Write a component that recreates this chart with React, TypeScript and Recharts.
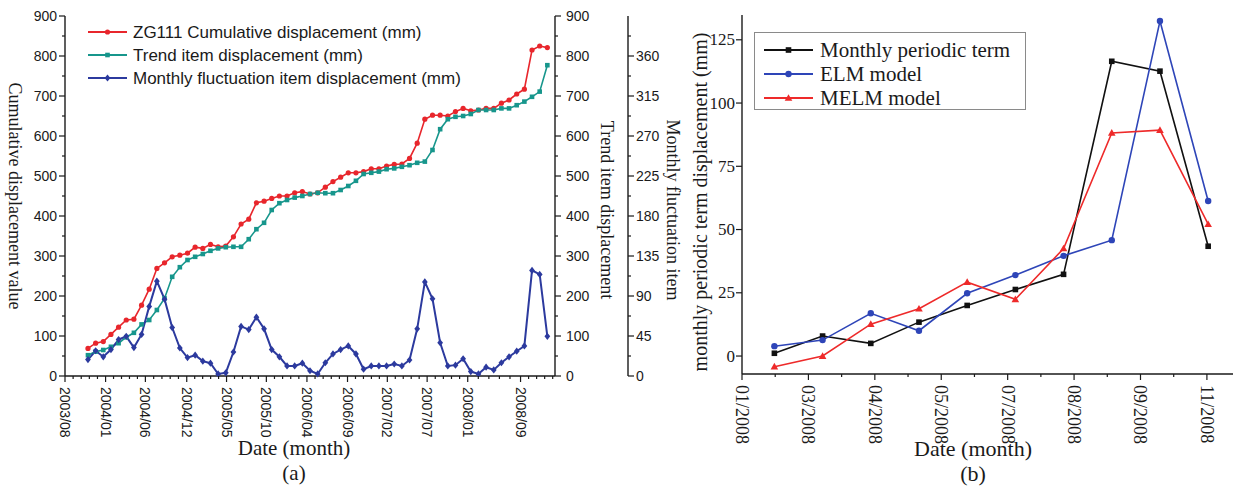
import React from "react";
import { LineChart, Line, XAxis, YAxis, Legend } from "recharts";

const SANS = "'Liberation Sans', Arial, sans-serif";
const SERIF = "'Liberation Serif', 'Times New Roman', serif";
const INK = "#1a1a1a";

// ---------- (a) ZG111, one value per monitoring sample ----------
const cumulative = [
  69, 82, 86, 104, 122, 140, 142, 177, 217, 269, 283, 298, 302, 307, 322, 319,
  329, 323, 325, 348, 380, 392, 433, 437, 444, 450, 450, 458, 461, 455, 458, 472,
  486, 497, 508, 508, 511, 518, 518, 525, 529, 530, 544, 582, 642, 652, 652, 650,
  661, 669, 663, 665, 669, 669, 682, 690, 705, 717, 815, 825, 821,
];
const trend = [
  52, 61, 65, 73, 82, 97, 108, 129, 140, 165, 194, 248, 272, 290, 298, 305,
  313, 319, 322, 323, 323, 342, 367, 383, 415, 432, 440, 446, 450, 455, 458, 457,
  457, 465, 475, 488, 505, 508, 511, 517, 519, 523, 527, 533, 536, 565, 617, 642,
  648, 650, 655, 665, 665, 665, 669, 669, 677, 686, 698, 711, 777,
];
// read on the third axis (monthly fluctuation item)
const fluctuation = [
  18.5, 28.4, 21.6, 29.7, 41.0, 44.6, 32.0, 46.8, 78.3, 106.7, 86.4, 54.5, 31.5,
  20.7, 23.4, 16.7, 14.4, 2.3, 3.6, 27.0, 55.8, 52.2, 66.2, 53.1, 29.7, 21.6,
  11.3, 11.3, 14.4, 5.9, 2.3, 14.9, 24.8, 29.7, 33.8, 24.8, 7.7, 11.3, 11.3, 11.3,
  13.5, 11.3, 18.0, 53.1, 105.8, 86.9, 37.4, 11.3, 12.2, 19.4, 5.0, 2.3, 9.9, 6.8,
  14.9, 21.6, 27.9, 33.8, 118.8, 114.3, 44.6,
];
const dateLabels = [
  "2003/08", "2004/01", "2004/06", "2004/12", "2005/05", "2005/10",
  "2006/04", "2006/09", "2007/02", "2007/07", "2008/01", "2008/09",
];
const datePos = [-3, 2.3, 7.5, 12.9, 18.1, 23.3, 28.6, 33.9, 39.1, 44.3, 49.6, 56.5];

// ---------- (b) 2008 prediction ----------
const monthIdx = [1, 2, 3, 4, 5, 6, 7, 8, 9, 10];
const periodic = [1.1, 7.9, 5.0, 13.4, 20.0, 26.3, 32.3, 116.5, 112.6, 43.4];
const elm = [3.9, 6.3, 16.9, 10.0, 24.8, 32.0, 39.6, 45.8, 132.4, 61.3];
const melm = [-4.2, 0, 12.6, 18.7, 29.2, 22.4, 42.5, 88.2, 89.3, 52.1];
const monthLabels = ["01/2008", "03/2008", "04/2008", "05/2008", "07/2008", "08/2008", "09/2008", "11/2008"];
const monthPos = [0.328, 1.706, 3.084, 4.462, 5.84, 7.218, 8.596, 9.974];

const leftData = cumulative.map((c, i) => ({ i, cumulative: c, trend: trend[i], fluctuation: fluctuation[i] }));
const rightData = monthIdx.map((m, k) => ({ m, periodic: periodic[k], elm: elm[k], melm: melm[k] }));

const A_DOMAIN: [number, number] = [-3, 61];
const B_DOMAIN: [number, number] = [0.328, 10.868];

function withMinors(pos: number[], n: number, tail: number, max: number) {
  const out: number[] = [];
  pos.forEach((p, k) => {
    out.push(p);
    const next = k < pos.length - 1 ? pos[k + 1] : p + tail * (n + 1);
    const step = (next - p) / (n + 1);
    for (let j = 1; j <= n; j++) if (p + j * step <= max) out.push(p + j * step);
  });
  return out;
}
const range = (from: number, to: number, step: number) => {
  const out: number[] = [];
  for (let v = from; v <= to + 1e-9; v += step) out.push(Math.round(v * 100) / 100);
  return out;
};

const aXTicks = withMinors(datePos, 4, 1.05, 61);
const aTopTicks = range(-3, 61, 6.4);
const bXTicks = withMinors(monthPos, 1, 0.69, 10.86);

function Marker({ shape, x, y, color, s }: any) {
  if (shape === "circle") return <circle cx={x} cy={y} r={s} fill={color} />;
  if (shape === "square") return <rect x={x - s} y={y - s} width={2 * s} height={2 * s} fill={color} />;
  if (shape === "diamond")
    return <polygon points={`${x},${y - s} ${x + s * 0.8},${y} ${x},${y + s} ${x - s * 0.8},${y}`} fill={color} />;
  return <polygon points={`${x},${y - s} ${x + s},${y + s * 0.75} ${x - s},${y + s * 0.75}`} fill={color} />;
}

const makeDot = (shape: string, color: string, s: number) => (p: any) => {
  if (p.cx == null || p.cy == null) return <g key={`d${p.index}`} />;
  return <Marker key={`d${p.index}`} shape={shape} x={p.cx} y={p.cy} color={color} s={s} />;
};

function XTick({ x = 0, y = 0, payload, majors, labels, ff, fs }: any) {
  const v = payload?.value ?? 0;
  const k = majors.findIndex((m: number) => Math.abs(m - v) < 1e-6);
  if (k < 0) return <line x1={x} x2={x} y1={y} y2={y + 3} stroke={INK} strokeWidth={1.2} />;
  return (
    <g>
      <line x1={x} x2={x} y1={y} y2={y + 6} stroke={INK} strokeWidth={1.2} />
      <text
        transform={`translate(${x},${y + 11}) rotate(90)`}
        textAnchor="start"
        dominantBaseline="central"
        fontFamily={ff}
        fontSize={fs}
        fill={INK}
      >
        {labels[k]}
      </text>
    </g>
  );
}

function TopTick({ x = 0, y = 0 }: any) {
  return <line x1={x} x2={x} y1={y} y2={y + 6} stroke={INK} strokeWidth={1.2} />;
}

function YTick({ x = 0, y = 0, payload, side, step, ff, fs, gap }: any) {
  const v = payload?.value ?? 0;
  const major = Math.abs(v / step - Math.round(v / step)) < 1e-6;
  const dir = side === "left" ? -1 : 1;
  return (
    <g>
      <line x1={x} x2={x + dir * (major ? 6 : 3)} y1={y} y2={y} stroke={INK} strokeWidth={1.2} />
      {major && (
        <text
          x={x + dir * gap}
          y={y}
          textAnchor={side === "left" ? "end" : "start"}
          dominantBaseline="central"
          fontFamily={ff}
          fontSize={fs}
          fill={INK}
        >
          {v}
        </text>
      )}
    </g>
  );
}

function Titles({ items }: any) {
  return (
    <g>
      {items.map((t: any, k: number) => (
        <text
          key={k}
          x={t.x}
          y={t.y}
          transform={t.rot ? `rotate(${t.rot} ${t.x} ${t.y})` : undefined}
          textAnchor="middle"
          dominantBaseline="central"
          fontFamily={SERIF}
          fontSize={t.fs}
          fill={INK}
        >
          {t.txt}
        </text>
      ))}
    </g>
  );
}

const RED_A = "#e8262c";
const TEAL_A = "#17968c";
const BLUE_A = "#2c3a9e";
const BLACK_B = "#111111";
const BLUE_B = "#2e45b8";
const RED_B = "#ee2a2a";

const shapeOf: Record<string, [string, number]> = {
  cumulative: ["circle", 2.6],
  trend: ["square", 2.3],
  fluctuation: ["diamond", 3.6],
  periodic: ["square", 2.8],
  elm: ["circle", 3.2],
  melm: ["triangle", 3.8],
};
const orderA = ["cumulative", "trend", "fluctuation"];
const orderB = ["periodic", "elm", "melm"];

const sortBy = (payload: any[] | undefined, order: string[]) =>
  [...(payload ?? [])].sort((a, b) => order.indexOf(a.dataKey) - order.indexOf(b.dataKey));

function LegendA({ payload }: any) {
  return (
    <svg width={400} height={70}>
      {sortBy(payload, orderA).map((r: any, k: number) => {
        const y = 12 + k * 23;
        const [shape, s] = shapeOf[r.dataKey] ?? ["circle", 2];
        return (
          <g key={k}>
            <line x1={8} x2={47} y1={y} y2={y} stroke={r.color} strokeWidth={1.8} />
            <Marker shape={shape} x={27.5} y={y} color={r.color} s={s} />
            <text x={53} y={y} dominantBaseline="central" fontFamily={SANS} fontSize={17} fill={INK}>
              {r.value}
            </text>
          </g>
        );
      })}
    </svg>
  );
}

function LegendB({ payload }: any) {
  return (
    <svg width={270} height={76} style={{ display: "block" }}>
      {sortBy(payload, orderB).map((r: any, k: number) => {
        const y = 17 + k * 24;
        const [shape, s] = shapeOf[r.dataKey] ?? ["circle", 2];
        return (
          <g key={k}>
            <line x1={9} x2={58} y1={y} y2={y} stroke={r.color} strokeWidth={1.8} />
            <Marker shape={shape} x={33.5} y={y} color={r.color} s={s} />
            <text x={65} y={y} dominantBaseline="central" fontFamily={SERIF} fontSize={21} fill={INK}>
              {r.value}
            </text>
          </g>
        );
      })}
    </svg>
  );
}

function PanelA() {
  return (
    <LineChart width={700} height={486} data={leftData} margin={{ top: 16, right: 20, bottom: 40, left: 0 }}>
      <XAxis
        dataKey="i"
        type="number"
        domain={A_DOMAIN}
        ticks={aXTicks}
        interval={0}
        height={70}
        tickSize={0}
        tickMargin={0}
        tickLine={false}
        axisLine={{ stroke: INK, strokeWidth: 1.4 }}
        tick={<XTick majors={datePos} labels={dateLabels} ff={SANS} fs={14} />}
        label={
          <Titles
            items={[
              { x: 294, y: 448, txt: "Date (month)", fs: 21 },
              { x: 294, y: 473, txt: "(a)", fs: 21 },
            ]}
          />
        }
      />
      <XAxis
        xAxisId="top"
        orientation="top"
        dataKey="i"
        type="number"
        domain={A_DOMAIN}
        ticks={aTopTicks}
        interval={0}
        height={0}
        tickSize={0}
        tickMargin={0}
        tickLine={false}
        axisLine={{ stroke: INK, strokeWidth: 1.4 }}
        tick={<TopTick />}
      />
      <YAxis
        yAxisId="left"
        width={65}
        domain={[0, 900]}
        ticks={range(0, 900, 50)}
        interval={0}
        tickSize={0}
        tickMargin={0}
        tickLine={false}
        axisLine={{ stroke: INK, strokeWidth: 1.4 }}
        tick={<YTick side="left" step={100} ff={SANS} fs={14} gap={8} />}
        label={<Titles items={[{ x: 15, y: 196, rot: 90, txt: "Cumulative displacement value", fs: 18 }]} />}
      />
      <YAxis
        yAxisId="r1"
        orientation="right"
        width={73}
        domain={[0, 900]}
        ticks={range(0, 900, 50)}
        interval={0}
        tickSize={0}
        tickMargin={0}
        tickLine={false}
        axisLine={{ stroke: INK, strokeWidth: 1.4 }}
        tick={<YTick side="right" step={100} ff={SANS} fs={14} gap={11} />}
        label={<Titles items={[{ x: 607, y: 210, rot: 90, txt: "Trend item displacement", fs: 18 }]} />}
      />
      <YAxis
        yAxisId="r2"
        orientation="right"
        width={52}
        domain={[0, 405]}
        ticks={range(0, 382.5, 22.5)}
        interval={0}
        tickSize={0}
        tickMargin={0}
        tickLine={false}
        axisLine={{ stroke: INK, strokeWidth: 1.4 }}
        tick={<YTick side="right" step={45} ff={SANS} fs={14} gap={8} />}
        label={<Titles items={[{ x: 673, y: 210, rot: 90, txt: "Monthly fluctuation item", fs: 18 }]} />}
      />
      <Legend
        layout="vertical"
        align="center"
        verticalAlign="middle"
        content={LegendA}
        wrapperStyle={{ left: 80, top: 20, width: 400, height: 70 }}
      />
      <Line
        yAxisId="left"
        dataKey="cumulative"
        name="ZG111 Cumulative displacement (mm)"
        stroke={RED_A}
        strokeWidth={1.6}
        dot={makeDot("circle", RED_A, 2.6)}
        isAnimationActive={false}
      />
      <Line
        yAxisId="r1"
        dataKey="trend"
        name="Trend item displacement (mm)"
        stroke={TEAL_A}
        strokeWidth={1.6}
        dot={makeDot("square", TEAL_A, 2.3)}
        isAnimationActive={false}
      />
      <Line
        yAxisId="r2"
        dataKey="fluctuation"
        name="Monthly fluctuation item displacement (mm)"
        stroke={BLUE_A}
        strokeWidth={2}
        dot={makeDot("diamond", BLUE_A, 3.6)}
        isAnimationActive={false}
      />
    </LineChart>
  );
}

function PanelB() {
  return (
    <LineChart width={570} height={486} data={rightData} margin={{ top: 15, right: 0, bottom: 42, left: 0 }}>
      <XAxis
        dataKey="m"
        type="number"
        domain={B_DOMAIN}
        ticks={bXTicks}
        interval={0}
        height={70}
        tickSize={0}
        tickMargin={0}
        tickLine={false}
        axisLine={{ stroke: INK, strokeWidth: 1.4 }}
        tick={<XTick majors={monthPos} labels={monthLabels} ff={SERIF} fs={18} />}
        label={
          <Titles
            items={[
              { x: 293, y: 448, txt: "Date (month)", fs: 22 },
              { x: 293, y: 473, txt: "(b)", fs: 22 },
            ]}
          />
        }
      />
      <XAxis
        xAxisId="top"
        orientation="top"
        dataKey="m"
        type="number"
        domain={B_DOMAIN}
        height={0}
        tick={false}
        tickLine={false}
        axisLine={{ stroke: "#333", strokeWidth: 1.4 }}
      />
      <YAxis
        width={62}
        domain={[-7.1, 134.8]}
        ticks={[0, 25, 50, 75, 100, 125]}
        interval={0}
        tickSize={0}
        tickMargin={0}
        tickLine={false}
        axisLine={{ stroke: INK, strokeWidth: 1.4 }}
        tick={<YTick side="left" step={25} ff={SERIF} fs={17} gap={7} />}
        label={
          <Titles items={[{ x: 20, y: 202, rot: -90, txt: "monthly periodic term displacement (mm)", fs: 20 }]} />
        }
      />
      <Legend
        layout="vertical"
        align="center"
        verticalAlign="middle"
        content={LegendB}
        wrapperStyle={{
          left: 74,
          top: 32,
          width: 272,
          height: 78,
          border: "1px solid #8a8a8a",
          boxSizing: "border-box",
          background: "#fff",
        }}
      />
      <Line
        dataKey="periodic"
        name="Monthly periodic term"
        stroke={BLACK_B}
        strokeWidth={1.6}
        dot={makeDot("square", BLACK_B, 2.8)}
        isAnimationActive={false}
      />
      <Line
        dataKey="elm"
        name="ELM model"
        stroke={BLUE_B}
        strokeWidth={1.6}
        dot={makeDot("circle", BLUE_B, 3.2)}
        isAnimationActive={false}
      />
      <Line
        dataKey="melm"
        name="MELM model"
        stroke={RED_B}
        strokeWidth={1.6}
        dot={makeDot("triangle", RED_B, 3.8)}
        isAnimationActive={false}
      />
    </LineChart>
  );
}

export default function App() {
  return (
    <div
      style={{
        position: "fixed",
        left: 0,
        top: 0,
        width: 1233,
        height: 486,
        overflow: "hidden",
        background: "#fff",
      }}
    >
      <div style={{ position: "absolute", left: 0, top: 0 }}>
        <PanelA />
      </div>
      <div style={{ position: "absolute", left: 680, top: 0 }}>
        <PanelB />
      </div>
    </div>
  );
}
